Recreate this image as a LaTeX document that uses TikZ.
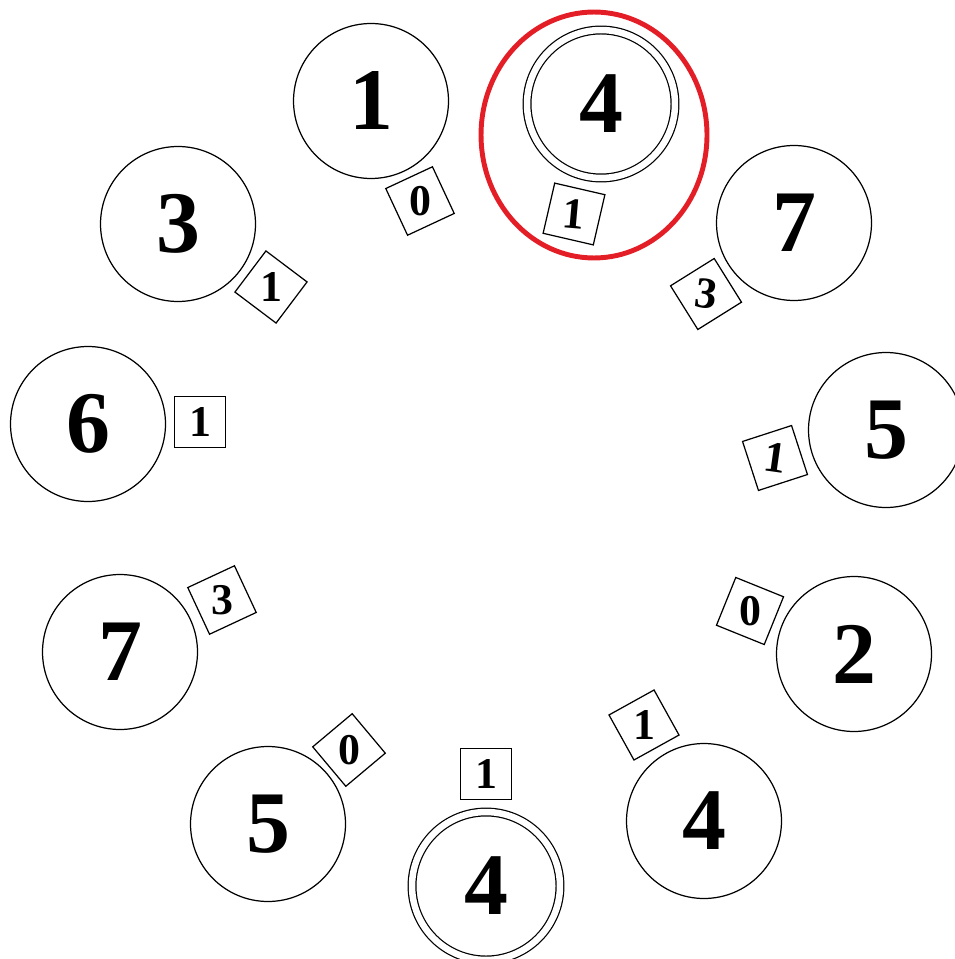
\documentclass[tikz,border=0pt]{standalone}
\usepackage{fontspec}
\setmainfont{Liberation Serif}
\usepackage{xcolor}
\usepackage{tikz}
\usetikzlibrary{shapes,positioning}
\definecolor{ringred}{RGB}{228,30,38}

\begin{document}
\begin{tikzpicture}[x=0.02cm, y=-0.02cm,
        statenode/.style={circle, draw=black, line width=0.7pt, minimum size=3.1cm, inner sep=0pt, font=\fontsize{50}{50}\selectfont\bfseries},
        finalnode/.style={statenode, minimum size=2.96cm, double, double distance=0.13cm},
        countbox/.style={regular polygon, regular polygon sides=4, draw=black, line width=0.7pt, minimum size=1.457cm, inner sep=0pt, font=\fontsize{25}{25}\selectfont\bfseries},
        ringmark/.style={draw=ringred, line width=2.8pt}
    ]
    \useasboundingbox (0,0) rectangle (954,959);

    % Ring of states
    \node[statenode] (s1) at (371,101) {1};
    \node[finalnode] (s2) at (601,104) {4};
    \node[statenode] (s3) at (794,223) {7};
    \node[statenode] (s4) at (886,430) {5};
    \node[statenode] (s5) at (854,654) {2};
    \node[statenode] (s6) at (704,821) {4};
    \node[finalnode] (s7) at (486,886) {4};
    \node[statenode] (s8) at (268,824) {5};
    \node[statenode] (s9) at (120,652) {7};
    \node[statenode] (s10) at (88,424) {6};
    \node[statenode] (s11) at (178,224) {3};

    % Counters on the inner side (frame tilted, digit kept upright)
    \node[countbox, shape border rotate=25] (c1) at (420,201) {0};
    \node[countbox, rotate=-5, shape border rotate=-8] (c2) at (574,214) {1};
    \node[countbox, rotate=-8, shape border rotate=40] (c3) at (706,294) {3};
    \node[countbox, rotate=-8, shape border rotate=26] (c4) at (775,458) {1};
    \node[countbox, shape border rotate=-22] (c5) at (750,611) {0};
    \node[countbox, shape border rotate=29] (c6) at (644,725) {1};
    \node[countbox] (c7) at (486,774) {1};
    \node[countbox, shape border rotate=40] (c8) at (349,750) {0};
    \node[countbox, shape border rotate=25] (c9) at (222,600) {3};
    \node[countbox] (c10) at (200,422) {1};
    \node[countbox, shape border rotate=-37] (c11) at (271,287) {1};

    % Highlighted state
    \draw[ringmark] (594,135) ellipse [x radius=2.26cm, y radius=2.46cm];

\end{tikzpicture}
\end{document}
